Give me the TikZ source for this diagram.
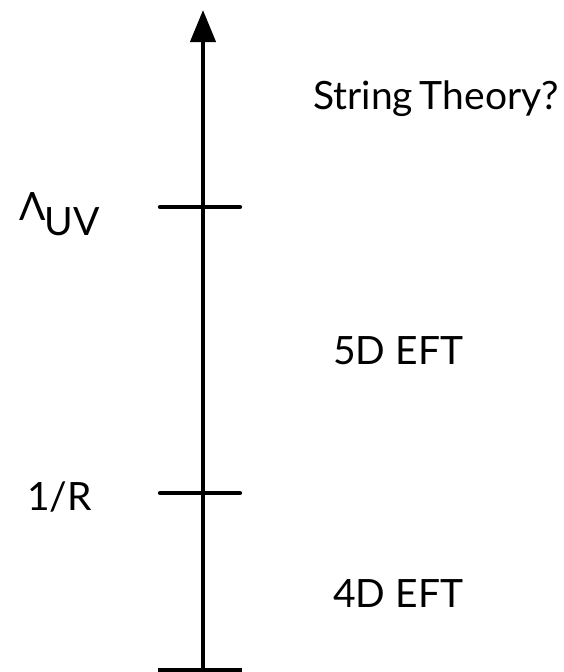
\documentclass[tikz,border=0pt]{standalone}
\usepackage{fontspec}
\setmainfont{Lato}
\usetikzlibrary{arrows.meta}
\begin{document}
\begin{tikzpicture}[x=1pt,y=-1pt,
  axisline/.style={line width=4.2pt},
  tickline/.style={line width=4.2pt,line cap=round},
  lbl/.style={inner sep=0pt,font=\fontsize{39}{46}\selectfont}]
\useasboundingbox (0,0) rectangle (563,672);
\coordinate (bot) at (203,668);
\coordinate (top) at (203,10);
\draw[axisline,-{Triangle[length=32pt,width=25pt]}] (bot) -- (top);
\coordinate (t1a) at (160,207); \coordinate (t1b) at (240,207);
\coordinate (t2a) at (160,493); \coordinate (t2b) at (240,493);
\coordinate (t3a) at (158,670); \coordinate (t3b) at (242,670);
\draw[tickline] (t1a) -- (t1b);
\draw[tickline] (t2a) -- (t2b);
\draw[line width=4.2pt] (t3a) -- (t3b);
\node[lbl,anchor=base west] (st) at (313,109) {String\kern-0.08em\ Theory?};
\node[lbl,anchor=base west] (lam) at (19,220) {Λ\kern-0.03em\raisebox{-0.4em}{UV}};
\node[lbl,anchor=base west] (r) at (27,510) {1/R};
\node[lbl,anchor=base west] (five) at (333,364) {5D EFT};
\node[lbl,anchor=base west] (four) at (333,607) {4D EFT};
\end{tikzpicture}
\end{document}
